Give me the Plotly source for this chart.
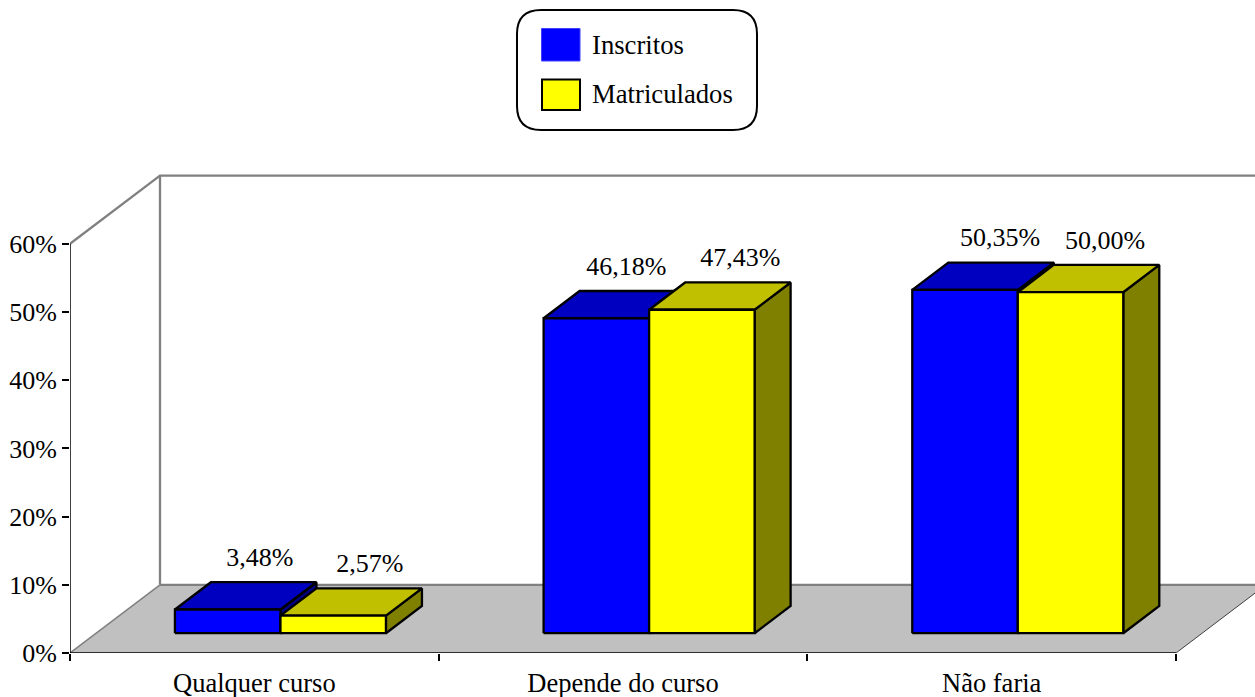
import plotly.graph_objects as go

categories = ["Qualquer curso", "Depende do curso", "Não faria"]
inscritos = [3.48, 46.18, 50.35]
matriculados = [2.57, 47.43, 50.00]
inscritos_labels = ["3,48%", "46,18%", "50,35%"]
matriculados_labels = ["2,57%", "47,43%", "50,00%"]
y_ticks = [0, 10, 20, 30, 40, 50, 60]
y_tick_labels = ["0%", "10%", "20%", "30%", "40%", "50%", "60%"]
series_names = ["Inscritos", "Matriculados"]

FONT = "Liberation Serif"
W, H = 1255, 697
L, B, T = 70, 44, 162
CAT_PX = 368.67
PCT_PX = 6.82
DX = 90 / CAT_PX      # oblique depth shift, category units
DY = 10.0             # oblique depth shift, percent units
D0, D1 = 0.29, 0.69   # bar depth span
BAR_W = 105.5 / CAT_PX
LABEL_LIFT = 10.5 / PCT_PX
NUDGE = {-1: [-3, -5, 0], 1: [1.5, 3.5, -0.5]}   # label x nudges, px


def px(c, v, d):
    return c + d * DX, v + d * DY


def poly(points, fill=None, color="black", width=2.3, clip=True):
    xs, ys = zip(*[px(*p) for p in points])
    return go.Scatter(
        x=list(xs), y=list(ys), mode="lines",
        line=dict(color=color, width=width),
        fill="toself" if fill else None, fillcolor=fill,
        hoverinfo="skip", showlegend=False, cliponaxis=clip,
    )


fig = go.Figure()
n = len(categories)
GRAY = "#808080"

# floor and walls
fig.add_trace(poly([(0, 0, 0), (n, 0, 0), (n, 0, 1), (0, 0, 1), (0, 0, 0)],
                   fill="#C0C0C0", color="rgba(0,0,0,0)", width=0))
fig.add_trace(poly([(0, 0, 0), (0, 0, 1)], color=GRAY, width=1.5))
fig.add_trace(poly([(n, 0, 0), (n, 0, 1)], color="#404040", width=1))
fig.add_trace(poly([(0, 60, 0), (0, 60, 1), (n, 60, 1)], color=GRAY, width=2.3))
fig.add_trace(poly([(0, 0, 1), (0, 60, 1)], color=GRAY, width=2.3))
fig.add_trace(poly([(0, 0, 1), (n, 0, 1)], color=GRAY, width=2.3))
# axis lines
fig.add_trace(poly([(0, 0, 0), (0, 60, 0)], color="black", width=1.5, clip=False))
fig.add_trace(poly([(0, 0, 0), (n, 0, 0)], color="black", width=1.5, clip=False))


def bar(x0, x1, v, front, top, side):
    fig.add_trace(poly([(x1, 0, D0), (x1, 0, D1), (x1, v, D1), (x1, v, D0), (x1, 0, D0)], fill=side))
    fig.add_trace(poly([(x0, v, D0), (x1, v, D0), (x1, v, D1), (x0, v, D1), (x0, v, D0)], fill=top))
    fig.add_trace(poly([(x0, 0, D0), (x1, 0, D0), (x1, v, D0), (x0, v, D0), (x0, 0, D0)], fill=front))


for i in range(n):
    c = i + 0.5
    bar(c - BAR_W, c, inscritos[i], "#0000FF", "#0000C0", "#000080")
    bar(c, c + BAR_W, matriculados[i], "#FFFF00", "#C0C000", "#808000")

# data labels
for vals, labels, sign in ((inscritos, inscritos_labels, -1), (matriculados, matriculados_labels, 1)):
    pts = [px(i + 0.5 + sign * BAR_W / 2 + NUDGE[sign][i] / CAT_PX, v + LABEL_LIFT, 0.68) for i, v in enumerate(vals)]
    fig.add_trace(go.Scatter(
        x=[p[0] for p in pts], y=[p[1] for p in pts], mode="text",
        text=labels, textposition="top center", textfont=dict(family=FONT, size=26, color="black"),
        hoverinfo="skip", showlegend=False, cliponaxis=False,
    ))

plot_h = H - B - T


def xp(p):
    return (p - L) / (W - L)


def yp(p):
    return (H - B - p) / plot_h


def rect(x0, y0, x1, y1, fill, line, width):
    return dict(type="rect", xref="paper", yref="paper", x0=xp(x0), x1=xp(x1), y0=yp(y0), y1=yp(y1),
                fillcolor=fill, line=dict(color=line, width=width))


# legend box with rounded corners
bx0, by0, bx1, by1, r = 517, 10, 757, 130, 24
box = (f"M {xp(bx0 + r)} {yp(by0)} L {xp(bx1 - r)} {yp(by0)} Q {xp(bx1)} {yp(by0)} {xp(bx1)} {yp(by0 + r)} "
       f"L {xp(bx1)} {yp(by1 - r)} Q {xp(bx1)} {yp(by1)} {xp(bx1 - r)} {yp(by1)} "
       f"L {xp(bx0 + r)} {yp(by1)} Q {xp(bx0)} {yp(by1)} {xp(bx0)} {yp(by1 - r)} "
       f"L {xp(bx0)} {yp(by0 + r)} Q {xp(bx0)} {yp(by0)} {xp(bx0 + r)} {yp(by0)} Z")
shapes = [
    dict(type="path", xref="paper", yref="paper", path=box, fillcolor="white", line=dict(color="black", width=2)),
    rect(541.5, 28.5, 580, 61, "#0000FF", "#4040FF", 1),
    rect(542, 79.5, 580, 110, "#FFFF00", "black", 2),
]
annotations = [
    dict(xref="paper", yref="paper", x=xp(590), y=yp(45), text=series_names[0], showarrow=False,
         xanchor="left", yanchor="middle", font=dict(family=FONT, size=26.7, color="black")),
    dict(xref="paper", yref="paper", x=xp(590), y=yp(94.5), text=series_names[1], showarrow=False,
         xanchor="left", yanchor="middle", font=dict(family=FONT, size=26.7, color="black")),
]

fig.update_layout(
    width=W, height=H, autosize=False,
    margin=dict(l=L, r=0, t=T, b=B, pad=0),
    paper_bgcolor="white", plot_bgcolor="white",
    showlegend=False, shapes=shapes, annotations=annotations,
    font=dict(family=FONT, size=26, color="black"),
    xaxis=dict(
        automargin=False,
        range=[0, (W - L) / CAT_PX], showgrid=False, zeroline=False, showline=False,
        tickmode="array", tickvals=[i + 0.5 for i in range(n)], ticktext=categories,
        ticks="", ticklabelstandoff=11, tickfont=dict(family=FONT, size=26.5, color="black"),
        minor=dict(tickmode="array", tickvals=list(range(n + 1)), ticks="outside", ticklen=7, tickwidth=1.5, tickcolor="black"),
        fixedrange=True,
    ),
    yaxis=dict(
        automargin=False,
        range=[0, plot_h / PCT_PX], showgrid=False, zeroline=False, showline=False,
        tickmode="array", tickvals=y_ticks, ticktext=y_tick_labels,
        ticks="outside", ticklen=7, tickwidth=1.5, tickcolor="black",
        fixedrange=True,
    ),
)

fig.write_html("out.html", post_script="document.body.style.margin='0';document.body.style.overflow='hidden';",
               config={"displayModeBar": False})
